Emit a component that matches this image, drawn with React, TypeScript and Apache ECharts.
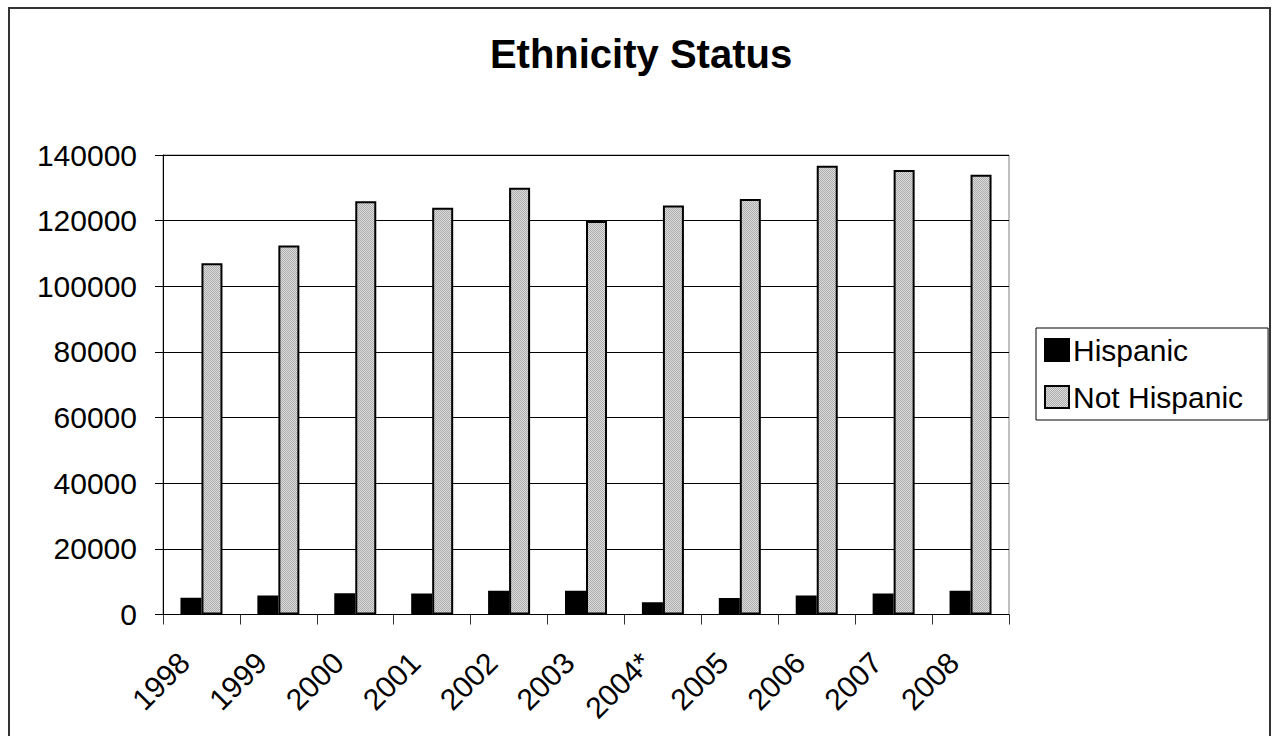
import React, { useEffect, useRef } from "react";
import * as echarts from "echarts";

const categories = ["1998", "1999", "2000", "2001", "2002", "2003", "2004*", "2005", "2006", "2007", "2008"];
const hispanic = [5100, 5800, 6500, 6400, 7200, 7200, 3700, 5000, 5800, 6400, 7200];
const notHispanic = [107000, 112400, 125900, 123900, 130000, 119900, 124600, 126600, 136700, 135400, 134000];
const yTicks = { min: 0, max: 140000, interval: 20000 };

const FONT = '"Liberation Sans", Arial, sans-serif';

function makePattern(): string {
  const c = document.createElement("canvas");
  c.width = 2;
  c.height = 2;
  const ctx = c.getContext("2d");
  if (ctx) {
    ctx.fillStyle = "#dcdcdc";
    ctx.fillRect(0, 0, 2, 2);
    ctx.fillStyle = "#acacac";
    ctx.fillRect(0, 0, 1, 1);
    ctx.fillRect(1, 1, 1, 1);
  }
  return c.toDataURL();
}

export default function App() {
  const ref = useRef<HTMLDivElement>(null);
  useEffect(() => {
    document.body.style.margin = "0";
    if (!ref.current) return;
    const chart = echarts.init(ref.current, null, { renderer: "svg" });
    const pat = makePattern();
    const grayFill: any = { image: pat, repeat: "repeat", imageWidth: 2, imageHeight: 2 };
    chart.setOption({
      animation: false,
      backgroundColor: "#fff",
      title: {
        text: "Ethnicity Status",
        left: 636,
        textAlign: "center",
        top: 29,
        textStyle: { fontFamily: FONT, fontSize: 40, fontWeight: "bold", color: "#000" },
      },
      legend: {
        orient: "vertical",
        left: 1036,
        top: 328,
        padding: [7, 25, 8, 8],
        itemWidth: 24,
        itemHeight: 22,
        itemGap: 17,
        icon: "rect",
        borderColor: "#000",
        borderWidth: 1,
        textStyle: { fontFamily: FONT, fontSize: 30, color: "#000", padding: [0, 0, 0, -1] },
        data: ["Hispanic", "Not Hispanic"],
      },
      grid: {
        left: 163,
        right: 267,
        top: 155,
        bottom: 121.5,
        show: true,
        borderColor: "#808080",
        borderWidth: 1,
      },
      xAxis: {
        type: "category",
        data: categories,
        axisLine: { lineStyle: { color: "#000", width: 1 } },
        axisTick: { show: true, length: 10, lineStyle: { color: "#333" }, alignWithLabel: false },
        axisLabel: {
          rotate: 45,
          margin: 26,
          padding: [0, 24, 0, 0],
          fontFamily: FONT,
          fontSize: 30,
          color: "#000",
          interval: 0,
        },
      },
      yAxis: {
        type: "value",
        min: yTicks.min,
        max: yTicks.max,
        interval: yTicks.interval,
        axisLine: { show: true, lineStyle: { color: "#000", width: 1 } },
        axisTick: { show: true, length: 8, inside: false, lineStyle: { color: "#000" } },
        axisLabel: {
          margin: 26,
          fontFamily: FONT,
          fontSize: 30,
          color: "#000",
          formatter: (v: number) => String(v),
        },
        splitLine: { show: true, lineStyle: { color: "#000", width: 1 } },
      },
      series: [
        {
          name: "Hispanic",
          type: "bar",
          data: hispanic,
          barWidth: 21,
          barGap: "0%",
          itemStyle: { color: "#000", borderColor: "#000", borderWidth: 2 },
        },
        {
          name: "Not Hispanic",
          type: "bar",
          data: notHispanic,
          barWidth: 21,
          barGap: "0%",
          itemStyle: { color: grayFill, borderColor: "#000", borderWidth: 2 },
        },
      ],
      graphic: [
        {
          type: "rect",
          shape: { x: 9, y: 8, width: 1261, height: 760 },
          style: { fill: "none", stroke: "#333", lineWidth: 2 },
          silent: true,
        },
      ],
    });
    return () => chart.dispose();
  }, []);
  return <div ref={ref} style={{ width: 1276, height: 736 }} />;
}
